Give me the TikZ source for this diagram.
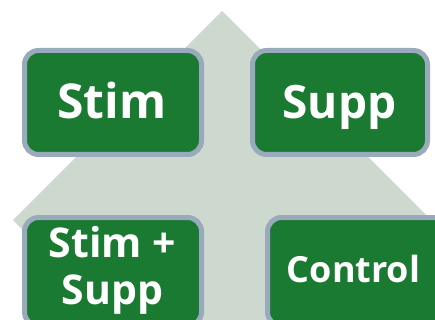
\documentclass[tikz,border=0pt]{standalone}
\usepackage{fontspec}
\setmainfont{Open Sans}
\definecolor{bgdiam}{RGB}{205,216,207}
\definecolor{boxgreen}{RGB}{27,122,49}
\definecolor{boxedge}{RGB}{152,170,188}
\tikzset{
  cell/.style={draw=boxedge, line width=5pt, fill=boxgreen, rounded corners=14pt},
  celltext/.style={text=white, font=\bfseries, anchor=base, inner sep=0pt, align=center}
}
\begin{document}
\begin{tikzpicture}[x=1pt,y=-1pt]
\useasboundingbox (0,0) rectangle (435,320);
\clip (0,0) rectangle (435,320);
\fill[white] (0,0) rectangle (435,320);
\fill[bgdiam] (222,11) -- (431,220) -- (222,429) -- (13,220) -- cycle;
\draw[cell] (24.5,50.5) rectangle (201.5,154.5);
\draw[cell] (252.5,50.5) rectangle (427.5,154.5);
\draw[cell] (24.5,217.5) rectangle (201.5,326);
\draw[cell] (267.5,217.5) rectangle (448,326);
\node[celltext, font=\bfseries\fontsize{48}{48}\selectfont] (t1) at (112,119) {Stim};
\node[celltext, font=\bfseries\fontsize{46}{46}\selectfont] (t2) at (339.5,119) {Supp};
\node[celltext, font=\bfseries\fontsize{41}{47}\selectfont] (t3) at (112.5,304) {Stim +\\Supp};
\node[celltext, font=\bfseries\fontsize{36}{36}\selectfont] (t4) at (353.5,282) {Control};
\end{tikzpicture}
\end{document}
